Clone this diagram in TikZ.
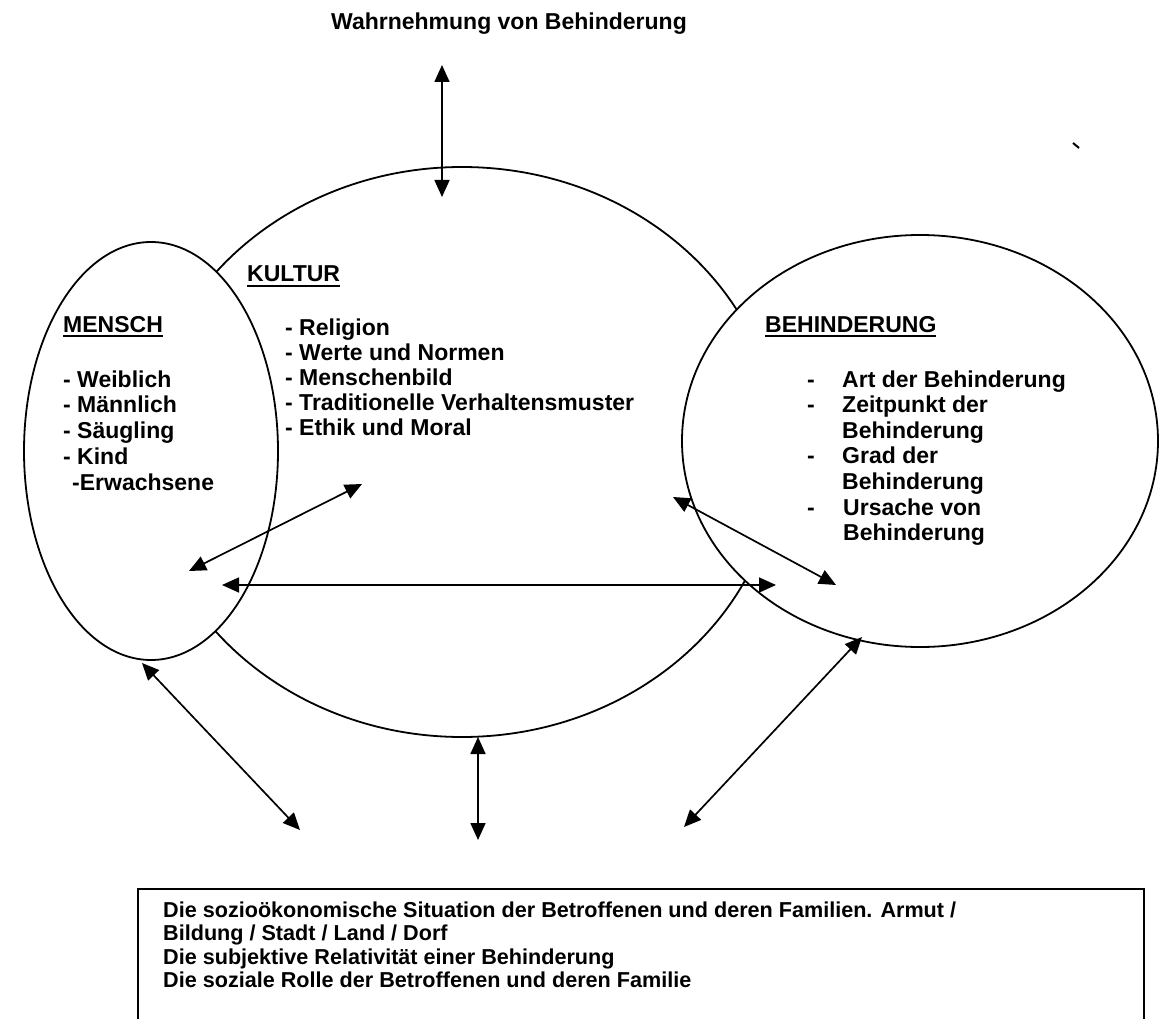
\documentclass[tikz,border=0pt]{standalone}
\usepackage{fontspec}
\setmainfont{Liberation Sans}
\usetikzlibrary{arrows.meta,shapes.geometric}
\newcommand\myul[1]{\setbox0\hbox{#1}\rlap{\rule[-4.5pt]{\wd0}{1.8pt}}\box0}
\begin{document}
\begin{tikzpicture}[x=1pt,y=-1pt,
  txt/.style={font=\fontsize{23}{25.8}\selectfont\bfseries, inner sep=0pt, anchor=base west},
  boxtxt/.style={font=\fontsize{21.6}{23.5}\selectfont\bfseries, inner sep=0pt, anchor=base west},
  oval/.style={draw, ellipse, line width=1.8pt, inner sep=0pt, fill=white},
  arr/.style={{Triangle[length=17pt,width=15pt]}-{Triangle[length=17pt,width=15pt]}, line width=1.7pt}]
\clip (0,0) rectangle (1160,1019);
\fill[white] (0,0) rectangle (1160,1019);
% shapes
\node[oval, minimum width=634pt, minimum height=570pt] (kultur) at (462,452) {};
\node[oval, minimum width=254pt, minimum height=418pt] (mensch) at (151,451) {};
\node[oval, minimum width=476pt, minimum height=412pt] (behind) at (920,441) {};
\node[draw, line width=1.5pt, minimum width=1006pt, minimum height=160pt, inner sep=0pt, anchor=north west] (box) at (137,888) {};
% stray mark
\draw[line width=2pt] (1073,143) -- (1079,148);
% texts
\node[txt, anchor=base] (title) at (509,30) {Wahrnehmung von Behinderung};
\node[txt] (kh) at (247,282) {\myul{KULTUR}};
\node[txt] (mh) at (63,332) {\myul{MENSCH}};
\node[txt] (bh) at (765,332) {\myul{BEHINDERUNG}};
\node[txt] (m1) at (63,387) {- Weiblich};
\node[txt] (m2) at (63,412.8) {- Männlich};
\node[txt] (m3) at (63,438.6) {- Säugling};
\node[txt] (m4) at (63,464.4) {- Kind};
\node[txt] (m5) at (72,490.2) {-Erwachsene};
\node[txt] (k1) at (285,335) {- Religion};
\node[txt] (k2) at (285,360) {- Werte und Normen};
\node[txt] (k3) at (285,385) {- Menschenbild};
\node[txt] (k4) at (285,410) {- Traditionelle Verhaltensmuster};
\node[txt] (k5) at (285,435) {- Ethik und Moral};
\node[txt] (bd1) at (807,387) {-};
\node[txt] (b1) at (842,387) {Art der Behinderung};
\node[txt] (bd2) at (807,412.5) {-};
\node[txt] (b2) at (842,412.5) {Zeitpunkt der};
\node[txt] (b3) at (842,438) {Behinderung};
\node[txt] (bd4) at (807,463.5) {-};
\node[txt] (b4) at (842,463.5) {Grad der};
\node[txt] (b5) at (842,489) {Behinderung};
\node[txt] (bd6) at (807,515) {-};
\node[txt] (b6) at (843,515) {Ursache von};
\node[txt] (b7) at (843,540.5) {Behinderung};
\node[boxtxt] (t1) at (163,917) {Die sozioökonomische Situation der Betroffenen und deren Familien. Armut /};
\node[boxtxt] (t2) at (163,940.5) {Bildung / Stadt / Land / Dorf};
\node[boxtxt] (t3) at (163,964) {Die subjektive Relativität einer Behinderung};
\node[boxtxt] (t4) at (163,987.5) {Die soziale Rolle der Betroffenen und deren Familie};
% arrow end points
\coordinate (pA1) at (442,65);   \coordinate (pA2) at (442,197);
\coordinate (pB1) at (189,571);  \coordinate (pB2) at (362,484);
\coordinate (pC1) at (222,585);  \coordinate (pC2) at (776,585);
\coordinate (pD1) at (673,497);  \coordinate (pD2) at (836,585);
\coordinate (pE1) at (142,663);  \coordinate (pE2) at (300,830);
\coordinate (pF1) at (478,737);  \coordinate (pF2) at (478,840);
\coordinate (pG1) at (862,637);  \coordinate (pG2) at (684,827);
\draw[arr] (pA1) -- (pA2);
\draw[arr] (pB1) -- (pB2);
\draw[arr] (pC1) -- (pC2);
\draw[arr] (pD1) -- (pD2);
\draw[arr] (pE1) -- (pE2);
\draw[arr] (pF1) -- (pF2);
\draw[arr] (pG1) -- (pG2);
\end{tikzpicture}
\end{document}
